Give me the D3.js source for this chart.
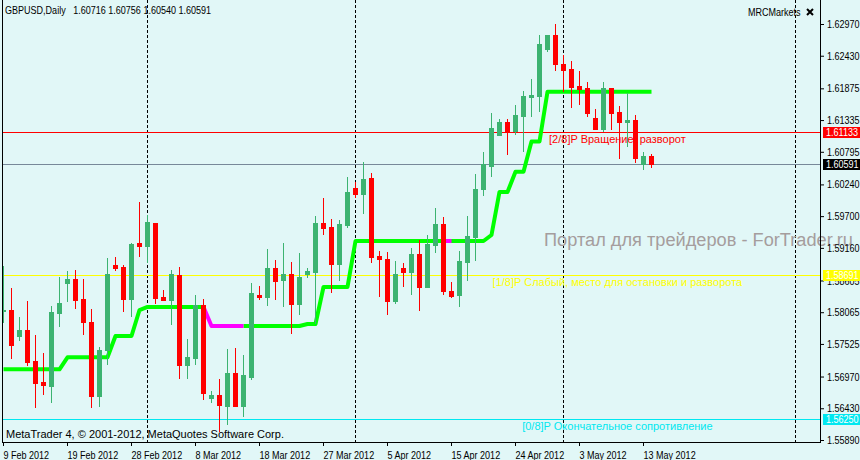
<!DOCTYPE html>
<html>

<head>
    <meta charset="utf-8">
    <style>
        body {
            margin: 0;
            background: #e1f7f7;
        }

        svg {
            display: block;
        }

        .narrow {
            font: 11px "Liberation Sans Narrow", "Arial Narrow", "Liberation Sans", sans-serif;
            fill: #000;
        }

        .axis text {
            font: 11px "Liberation Sans Narrow", "Arial Narrow", "Liberation Sans", sans-serif;
            fill: #000;
        }

        .axis line {
            stroke: #000;
        }

        .regular {
            font: 11px "Liberation Sans", Arial, sans-serif;
        }

        .watermark {
            font: 18px "Liberation Sans", Arial, sans-serif;
            fill: #a59d9d;
        }
    </style>
</head>

<body>
    <svg width="860" height="460"></svg>
    <script src="https://cdnjs.cloudflare.com/ajax/libs/d3/7.8.5/d3.min.js"></script>
    <script>
        // GBPUSD daily, 9 Feb 2012 .. 14 May 2012
        var open = [1.58077, 1.58102, 1.57665, 1.57762, 1.57235, 1.56882, 1.56814, 1.58057, 1.58567, 1.58630,
            1.58290, 1.57898, 1.56644, 1.57427, 1.58868, 1.58834, 1.58295, 1.59243, 1.59197, 1.59583,
            1.58324, 1.58278, 1.58698, 1.57172, 1.57291, 1.58188, 1.56610, 1.56656, 1.56474, 1.57030,
            1.56474, 1.56967, 1.58358, 1.58329, 1.58817, 1.58618, 1.58715, 1.58210, 1.58720, 1.58754,
            1.59583, 1.59515, 1.58890, 1.59554, 1.60179, 1.60082, 1.60349, 1.59021, 1.58970, 1.58261,
            1.58817, 1.58754, 1.59055, 1.58499, 1.59214, 1.59566, 1.58426, 1.58363, 1.58924, 1.59350,
            1.60167, 1.60558, 1.61086, 1.61302, 1.61149, 1.61404, 1.61732, 1.61744, 1.62544, 1.62782,
            1.62289, 1.62204, 1.61914, 1.61880, 1.61370, 1.61183, 1.61880, 1.61472, 1.61307, 1.61336,
            1.60582, 1.60716];
        var high = [1.58851, 1.58482, 1.57984, 1.58261, 1.57677, 1.57371, 1.58171, 1.58664, 1.58766, 1.58783,
            1.58630, 1.58120, 1.57473, 1.58987, 1.59004, 1.58868, 1.59243, 1.59940, 1.59719, 1.59583,
            1.58443, 1.58783, 1.58834, 1.57614, 1.58358, 1.58290, 1.56729, 1.56928, 1.57439, 1.57456,
            1.57337, 1.58562, 1.58511, 1.59141, 1.58953, 1.59243, 1.58919, 1.59073, 1.58817, 1.59702,
            1.60009, 1.59651, 1.59634, 1.60366, 1.60281, 1.60621, 1.60434, 1.59107, 1.59090, 1.58936,
            1.58902, 1.59158, 1.59294, 1.59379, 1.59838, 1.59685, 1.58579, 1.59107, 1.59702, 1.60417,
            1.60786, 1.61460, 1.61353, 1.61353, 1.61591, 1.61829, 1.62034, 1.62782, 1.62782, 1.62970,
            1.62442, 1.62340, 1.62170, 1.61983, 1.61523, 1.61983, 1.61880, 1.61574, 1.61795, 1.61421,
            1.60791, 1.60756];
        var low = [1.57898, 1.57291, 1.57592, 1.57167, 1.56457, 1.56678, 1.56542, 1.57835, 1.58261, 1.58142,
            1.57699, 1.56457, 1.56474, 1.57189, 1.58788, 1.58091, 1.58006, 1.59027, 1.58924, 1.58227,
            1.58278, 1.57869, 1.56950, 1.56950, 1.57189, 1.56593, 1.56542, 1.56043, 1.56162, 1.56474,
            1.56299, 1.56933, 1.58295, 1.58193, 1.58295, 1.58176, 1.57716, 1.58040, 1.58669, 1.57881,
            1.59401, 1.58414, 1.58618, 1.59520, 1.60031, 1.59758, 1.58924, 1.58346, 1.58040, 1.58227,
            1.58516, 1.58380, 1.58108, 1.58499, 1.59095, 1.58380, 1.58329, 1.58176, 1.58618, 1.58958,
            1.60065, 1.60388, 1.61086, 1.60762, 1.61093, 1.60813, 1.61399, 1.61489, 1.62510, 1.62187,
            1.61829, 1.61557, 1.61608, 1.61404, 1.61183, 1.61149, 1.61183, 1.60694, 1.60893, 1.60626,
            1.60507, 1.60540];
        var close = [1.58102, 1.57512, 1.57762, 1.57223, 1.56865, 1.56831, 1.58068, 1.58222, 1.58630, 1.58278,
            1.57903, 1.56644, 1.57422, 1.58715, 1.58822, 1.58295, 1.59226, 1.59197, 1.59600, 1.58312,
            1.58278, 1.58715, 1.57172, 1.57308, 1.58188, 1.56695, 1.56656, 1.56491, 1.57030, 1.56474,
            1.56996, 1.58392, 1.58329, 1.58817, 1.58601, 1.58715, 1.58210, 1.58664, 1.58766, 1.59583,
            1.59503, 1.58890, 1.59566, 1.60111, 1.60082, 1.60332, 1.59010, 1.58975, 1.58261, 1.58715,
            1.58754, 1.59055, 1.58499, 1.59226, 1.59566, 1.58431, 1.58346, 1.58936, 1.59362, 1.60162,
            1.60582, 1.61200, 1.61302, 1.61149, 1.61421, 1.61744, 1.61761, 1.62629, 1.62782, 1.62284,
            1.62187, 1.61897, 1.61863, 1.61455, 1.61183, 1.61880, 1.61455, 1.61302, 1.61336, 1.60694,
            1.60723, 1.60591];

        // trailing indicator: up buffer (lime) and down buffer (magenta)
        var trendUp = [1.57093, 1.57093, 1.57093, 1.57093, 1.57093, 1.57093, 1.57093, 1.57093, 1.57298, 1.57298,
            1.57298, 1.57298, 1.57298, 1.57298, 1.57660, 1.57660, 1.57660, 1.58102, 1.58154, 1.58154,
            1.58154, 1.58154, 1.58154, 1.58154, 1.58154, 1.58154, null, null, null, null,
            1.57830, 1.57830, 1.57830, 1.57830, 1.57830, 1.57830, 1.57830, 1.57830, 1.57864, 1.57864,
            1.58494, 1.58494, 1.58494, 1.58494, 1.59277, 1.59277, 1.59277, 1.59277, 1.59277, 1.59277,
            1.59277, 1.59277, 1.59277, 1.59277, 1.59277, 1.59277, 1.59277, 1.59277, 1.59277, 1.59277,
            1.59277, 1.59379, 1.60111, 1.60111, 1.60456, 1.60456, 1.60970, 1.60970, 1.61817, 1.61817,
            1.61817, 1.61817, 1.61817, 1.61817, 1.61817, 1.61817, 1.61817, 1.61817, 1.61817, 1.61817,
            1.61817, 1.61817];
        var trendDown = [null, null, null, null, null, null, null, null, null, null,
            null, null, null, null, null, null, null, null, null, null,
            null, null, null, null, null, 1.58154, 1.57830, 1.57830, 1.57830, 1.57830,
            1.57830, null, null, null, null, null, null, null, null, null,
            null, null, null, null, null, null, null, null, null, null,
            null, null, null, null, null, 1.59277, 1.59277, null, null, null,
            null, null, null, null, null, null, null, null, null, null,
            null, null, null, null, null, null, null, null, null, null,
            null, null];

        var tickBars = [0, 8, 16, 24, 32, 40, 48, 56, 64, 72, 80];
        var tickLabels = ["9 Feb 2012", "19 Feb 2012", "28 Feb 2012", "8 Mar 2012", "18 Mar 2012", "27 Mar 2012",
            "5 Apr 2012", "15 Apr 2012", "24 Apr 2012", "3 May 2012", "13 May 2012"];
        var monthBars = [18, 44, 70, 99]; // 1 Mar, 1 Apr, 1 May, 1 Jun
        var priceTicks = [1.62970, 1.62430, 1.61875, 1.61335, 1.60795, 1.60240, 1.59700, 1.59160,
            1.58605, 1.58065, 1.57525, 1.56970, 1.56430, 1.55890];

        var levelPrices = [1.61133, 1.58691, 1.56250];
        var levelColors = ["#ff0000", "#ffff00", "#00e8f0"];
        var levelTexts = ["[2/8]P Вращение, разворот", "[1/8]P Слабый, место для остановки и разворота",
            "[0/8]P Окончательное сопротивление"];
        var levelLabelBar = 76.8;
        var bid = 1.60591;

        var svg = d3.select("svg"),
            left = 2,
            right = 820,
            bottom = 442;

        var x = d3.scaleLinear().domain([0, 100]).range([3, 803]);
        var y = d3.scaleLinear().domain([1.55890, 1.62970]).range([440, 24]);
        var py = function(v) { return Math.round(y(v)); };

        // month separators
        svg.append("g").selectAll("line")
            .data(monthBars)
            .enter().append("line")
            .attr("x1", function(d) { return Math.round(x(d)) + 0.5; })
            .attr("x2", function(d) { return Math.round(x(d)) + 0.5; })
            .attr("y1", 0)
            .attr("y2", bottom)
            .attr("stroke", "#000")
            .attr("stroke-dasharray", "3,2");

        // horizontal levels
        svg.append("g").selectAll("line")
            .data(levelPrices)
            .enter().append("line")
            .attr("x1", left)
            .attr("x2", right)
            .attr("y1", function(d) { return py(d) + 0.5; })
            .attr("y2", function(d) { return py(d) + 0.5; })
            .attr("stroke", function(d, i) { return levelColors[i]; });

        svg.append("line")
            .attr("x1", left).attr("x2", right)
            .attr("y1", py(bid) + 0.5).attr("y2", py(bid) + 0.5)
            .attr("stroke", "#778899");

        // watermark
        svg.append("text")
            .attr("class", "watermark")
            .attr("x", 544)
            .attr("y", 246)
            .attr("textLength", 309)
            .attr("lengthAdjust", "spacingAndGlyphs")
            .text("Портал для трейдеров - ForTrader.ru");

        // level captions
        svg.append("g").selectAll("text")
            .data(levelPrices)
            .enter().append("text")
            .attr("class", "regular")
            .attr("x", x(levelLabelBar))
            .attr("y", function(d) { return py(d) + 11; })
            .attr("text-anchor", "middle")
            .attr("fill", function(d, i) { return levelColors[i]; })
            .text(function(d, i) { return levelTexts[i]; });

        // indicator
        var line = d3.line()
            .defined(function(d) { return d != null; })
            .x(function(d, i) { return Math.round(x(i)) + 0.5; })
            .y(function(d) { return y(d); });

        svg.append("path")
            .datum(trendUp)
            .attr("d", line)
            .attr("fill", "none")
            .attr("stroke", "#00ff00")
            .attr("stroke-width", 4)
            .attr("stroke-linejoin", "round");

        svg.append("path")
            .datum(trendDown)
            .attr("d", line)
            .attr("fill", "none")
            .attr("stroke", "#ff00ff")
            .attr("stroke-width", 4)
            .attr("stroke-linejoin", "round");

        // candles
        var candle = svg.append("g")
            .attr("shape-rendering", "crispEdges")
            .selectAll("g")
            .data(open)
            .enter().append("g")
            .attr("fill", function(d, i) { return close[i] >= open[i] ? "#3cb371" : "#ff0000"; });

        candle.append("rect")
            .attr("x", function(d, i) { return Math.round(x(i)); })
            .attr("width", 1)
            .attr("y", function(d, i) { return py(high[i]); })
            .attr("height", function(d, i) { return py(low[i]) - py(high[i]) + 1; });

        candle.append("rect")
            .attr("x", function(d, i) { return Math.round(x(i)) - 2; })
            .attr("width", 5)
            .attr("y", function(d, i) { return py(Math.max(open[i], close[i])); })
            .attr("height", function(d, i) {
                return py(Math.min(open[i], close[i])) - py(Math.max(open[i], close[i])) + 1;
            });

        // cover bars that fall left of the frame
        svg.append("rect")
            .attr("x", 0).attr("y", 0).attr("width", left).attr("height", bottom)
            .attr("fill", "#e1f7f7");

        // frame
        var frame = svg.append("g").attr("stroke", "#000").attr("shape-rendering", "crispEdges");
        frame.append("line").attr("x1", left + 0.5).attr("x2", left + 0.5).attr("y1", 0).attr("y2", bottom);
        frame.append("line").attr("x1", right + 0.5).attr("x2", right + 0.5).attr("y1", 0).attr("y2", bottom + 1);
        frame.append("line").attr("x1", left).attr("x2", right + 1).attr("y1", bottom + 0.5).attr("y2", bottom + 0.5);

        // price axis
        var yAxis = svg.append("g")
            .attr("class", "axis")
            .attr("transform", "translate(" + right + ",0)")
            .call(d3.axisRight(y)
                .tickValues(priceTicks)
                .tickFormat(d3.format(".5f"))
                .tickSizeInner(4)
                .tickSizeOuter(0)
                .tickPadding(3));
        yAxis.select(".domain").remove();

        // time axis
        var xAxis = svg.append("g")
            .attr("class", "axis")
            .attr("transform", "translate(0," + bottom + ")")
            .call(d3.axisBottom(x)
                .tickValues(tickBars)
                .tickFormat(function(d, i) { return tickLabels[i]; })
                .tickSizeInner(4)
                .tickSizeOuter(0)
                .tickPadding(3));
        xAxis.select(".domain").remove();
        xAxis.selectAll("text").attr("text-anchor", "start").attr("dy", "0.95em");

        // price boxes on the axis
        var boxPrices = levelPrices.concat([bid]);
        var boxColors = levelColors.concat(["#000000"]);
        var box = svg.append("g").selectAll("g")
            .data(boxPrices)
            .enter().append("g");
        box.append("rect")
            .attr("x", right + 3)
            .attr("y", function(d) { return py(d) - 5; })
            .attr("width", 37)
            .attr("height", 11)
            .attr("fill", function(d, i) { return boxColors[i]; });
        box.append("text")
            .attr("class", "narrow")
            .attr("x", right + 6)
            .attr("y", function(d) { return py(d) + 4; })
            .style("fill", "#fff")
            .text(function(d) { return d3.format(".5f")(d); });

        // captions
        svg.append("text")
            .attr("class", "narrow")
            .attr("x", 5)
            .attr("y", 14)
            .style("white-space", "pre")
            .text("GBPUSD,Daily   " + [open[81], high[81], low[81], close[81]].map(d3.format(".5f")).join(" "));

        svg.append("text")
            .attr("class", "narrow")
            .attr("x", 748)
            .attr("y", 16)
            .text("MRCMarkets");

        svg.append("path")
            .attr("d", "M807,9L813,15M813,9L807,15")
            .attr("stroke", "#000")
            .attr("stroke-width", 2);

        svg.append("text")
            .attr("class", "regular")
            .attr("x", 6)
            .attr("y", 438)
            .text("MetaTrader 4, © 2001-2012, MetaQuotes Software Corp.");

        // no narrow face installed: squeeze the regular one to narrow width
        svg.selectAll(".narrow, .axis text").each(function() {
            var w = this.getComputedTextLength();
            d3.select(this)
                .attr("textLength", w * 0.82)
                .attr("lengthAdjust", "spacingAndGlyphs");
        });
    </script>
</body>

</html>
